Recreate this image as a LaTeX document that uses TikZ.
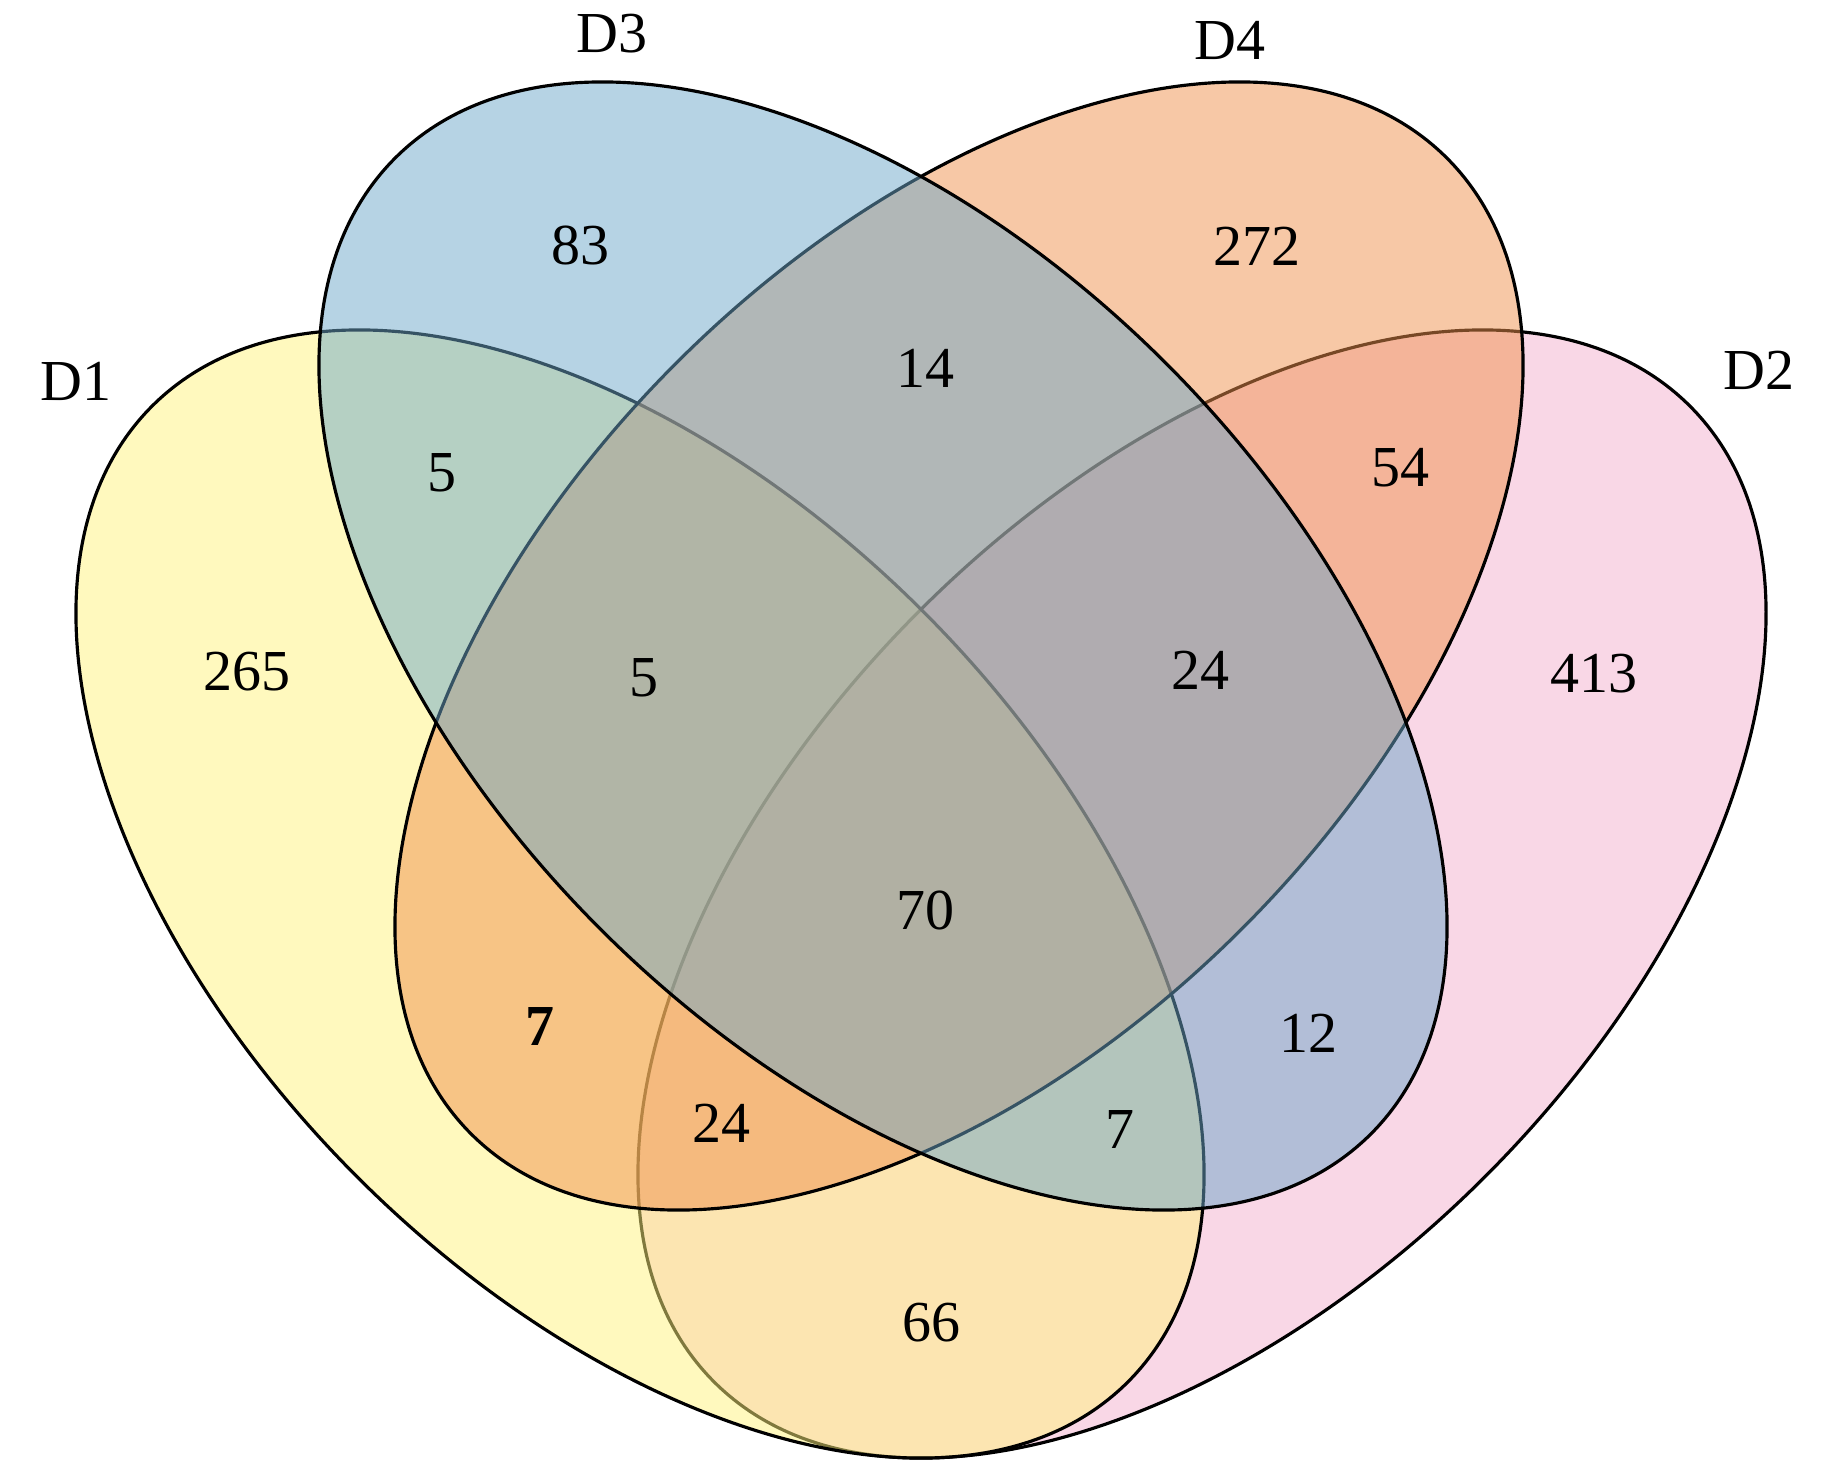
\documentclass[tikz,border=0pt]{standalone}
\usepackage{fontspec}
\setmainfont{Liberation Serif}
\usepackage{tikz}

\definecolor{dyellow}{RGB}{255,243,125}
\definecolor{dpink}{RGB}{243,175,205}
\definecolor{dblue}{RGB}{109,167,201}
\definecolor{dorange}{RGB}{239,145,77}

\begin{document}
\begin{tikzpicture}[
    venn/.style={draw=black, line width=0.9pt, fill opacity=0.5, draw opacity=1},
    lbl/.style={font=\fontsize{16.5}{19}\selectfont, inner sep=0pt}
]
    \useasboundingbox (0, 0) rectangle (18.28, 14.71);

    % sets, drawn in this order
    \path[venn, fill=dpink, rotate around={45:(12.02, 5.77)}] (12.02, 5.77) ellipse (6.9 and 4.0);
    \path[venn, fill=dyellow, rotate around={-45:(6.40, 5.77)}] (6.40, 5.77) ellipse (6.9 and 4.0);
    \path[venn, fill=dorange, rotate around={45:(9.59, 8.25)}] (9.59, 8.25) ellipse (6.9 and 4.0);
    \path[venn, fill=dblue, rotate around={-45:(8.83, 8.25)}] (8.83, 8.25) ellipse (6.9 and 4.0);

    % set names
    \node[lbl] (nameD1) at (0.76, 10.90) {D1};
    \node[lbl] (nameD3) at (6.12, 14.37) {D3};
    \node[lbl] (nameD4) at (12.30, 14.31) {D4};
    \node[lbl] (nameD2) at (17.59, 11.01) {D2};

    % counts
    \node[lbl] (cntC) at (5.80, 12.25) {83};
    \node[lbl] (cntD) at (12.57, 12.25) {272};
    \node[lbl] (cntCD) at (9.25, 11.03) {14};
    \node[lbl] (cntAC) at (4.42, 9.98) {5};
    \node[lbl] (cntBD) at (14.00, 10.03) {54};
    \node[lbl] (cntA) at (2.47, 7.99) {265};
    \node[lbl] (cntACD) at (6.44, 7.93) {5};
    \node[lbl] (cntBCD) at (12.00, 8.01) {24};
    \node[lbl] (cntB) at (15.94, 7.97) {413};
    \node[lbl] (cntABCD) at (9.25, 5.61) {70};
    \node[lbl, font=\fontsize{16.5}{19}\selectfont\bfseries] (cntAD) at (5.40, 4.45) {7};
    \node[lbl] (cntABD) at (7.21, 3.48) {24};
    \node[lbl] (cntBC) at (13.08, 4.38) {12};
    \node[lbl] (cntABC) at (11.20, 3.42) {7};
    \node[lbl] (cntAB) at (9.31, 1.48) {66};
\end{tikzpicture}
\end{document}
